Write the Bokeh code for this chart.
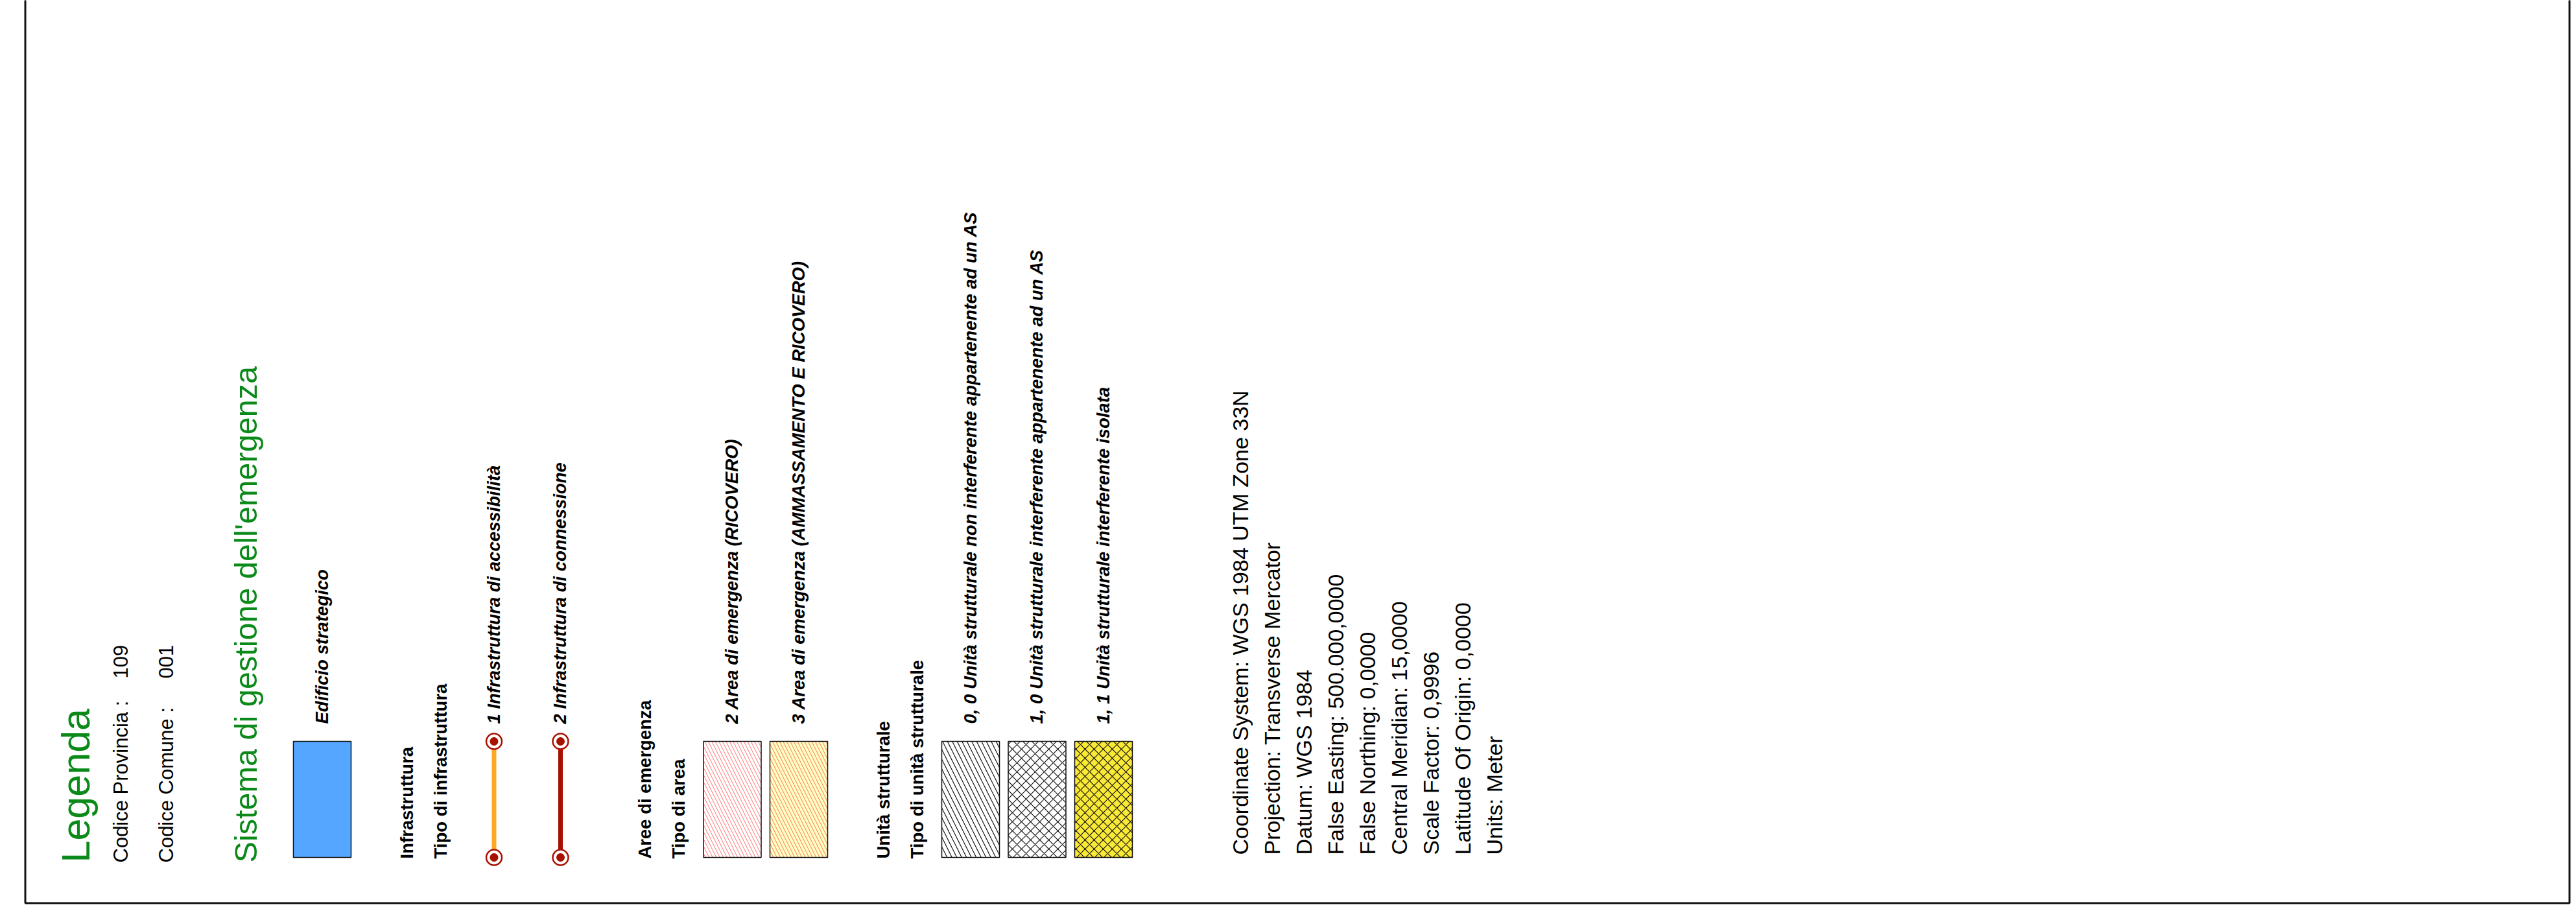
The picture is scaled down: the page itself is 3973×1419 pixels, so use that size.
import math
from bokeh.plotting import figure
from bokeh.models import Range1d
from bokeh.core.properties import value
from bokeh.embed import file_html
from bokeh.resources import INLINE

# ---------------- data (legend content) ----------------
legend_title = "Legenda"
codice_labels = ["Codice Provincia :", "Codice Comune :"]
codice_values = ["109", "001"]
section_title = "Sistema di gestione dell'emergenza"

strategic_labels = ["Edificio strategico"]
strategic_fills = ["#55A6FF"]

infra_headings = ["Infrastruttura", "Tipo di infrastruttura"]
infra_labels = ["1 Infrastruttura di accessibilità", "2 Infrastruttura di connessione"]
infra_colors = ["#FFA726", "#A81000"]

aree_headings = ["Aree di emergenza", "Tipo di area"]
aree_labels = ["2 Area di emergenza (RICOVERO)", "3 Area di emergenza (AMMASSAMENTO E RICOVERO)"]
aree_fills = ["#FFFFFF", "#FFFFBE"]
aree_hatch_colors = ["#FF6E6E", "#FF6E6E"]

unita_headings = ["Unità strutturale", "Tipo di unità strutturale"]
unita_labels = ["0, 0 Unità strutturale non interferente appartenente ad un AS",
                "1, 0 Unità strutturale interferente appartenente ad un AS",
                "1, 1 Unità strutturale interferente isolata"]
unita_fills = ["#FFFFFF", "#FFFFFF", "#FAE935"]
unita_hatches = ["\\", "x", "x"]

crs_lines = ["Coordinate System: WGS 1984 UTM Zone 33N",
             "Projection: Transverse Mercator",
             "Datum: WGS 1984",
             "False Easting: 500.000,0000",
             "False Northing: 0,0000",
             "Central Meridian: 15,0000",
             "Scale Factor: 0,9996",
             "Latitude Of Origin: 0,0000",
             "Units: Meter"]

# ---------------- page geometry ----------------
W, H = 3966, 1403
FONT = "Liberation Sans"
GREEN = "#0B8A1A"
UP = math.pi / 2


def X(px):
    return px


def Y(py):
    return H - py


p = figure(width=W, height=H, x_range=Range1d(0, W), y_range=Range1d(0, H),
           output_backend="svg", toolbar_location=None, min_border=0,
           x_axis_type=None, y_axis_type=None)
p.grid.visible = False
p.outline_line_color = None
p.background_fill_color = "white"
p.border_fill_color = "white"


def vtext(xs, y0, texts, size, style="normal", color="black"):
    shift = 0.2 * size + 5  # rotated-text baseline correction
    p.text(x=[X(v - shift) for v in xs], y=[Y(y0)] * len(xs), text=texts, angle=UP,
           text_font=value(FONT), text_font_size=f"{size}px", text_font_style=style,
           text_color=color, text_align="left", text_baseline="alphabetic")


# frame (top edge lies above the page)
p.line(x=[X(38.5), X(38.5), X(3962.5), X(3962.5)], y=[Y(-20), Y(1392.5), Y(1392.5), Y(-20)],
       line_color="#111111", line_width=3)

# header block
HEAD_Y = 1330
vtext([134], HEAD_Y, [legend_title], 61, color=GREEN)
codice_x = [197, 267]
vtext(codice_x, HEAD_Y, codice_labels, 31)
vtext(codice_x, 1046, codice_values, 31)
vtext([393], HEAD_Y, [section_title], 48.6, color=GREEN)

# symbol geometry
SYM_TOP, SYM_BOT = 1143, 1322
SYM_W = 89
SYM_H = SYM_BOT - SYM_TOP
SYM_MID = (SYM_TOP + SYM_BOT) / 2
LABEL_Y = 1116
HEADING_Y = 1324
LBL_SIZE = 27.5
PITCH = 102.5
GROUP_GAP = 140.5
HEAD_GAP = 52
FIRST_GAP = 72.5
BASE_OFF = 9.7


def labels_for(centers, labels):
    vtext([c + BASE_OFF for c in centers], LABEL_Y, labels, LBL_SIZE, style="bold italic")


# strategic building
blue_cx = [496.5]
p.rect(x=[X(c) for c in blue_cx], y=[Y(SYM_MID)] * len(blue_cx), width=SYM_W, height=SYM_H,
       fill_color=strategic_fills, line_color="#111111", line_width=1.5)
labels_for(blue_cx, strategic_labels)


def group(start_after, headings, n):
    h1 = start_after + GROUP_GAP
    h2 = h1 + HEAD_GAP
    vtext([h1, h2], HEADING_Y, headings, LBL_SIZE, style="bold")
    return [h2 + FIRST_GAP + i * PITCH for i in range(n)]


# infrastructure lines
infra_cx = group(blue_cx[-1], infra_headings, len(infra_labels))
for cx, col in zip(infra_cx, infra_colors):
    p.line(x=[X(cx), X(cx)], y=[Y(SYM_TOP), Y(SYM_BOT)], line_color=col, line_width=7)
ends_x = [X(c) for c in infra_cx for _ in (0, 1)]
ends_y = [Y(v) for _ in infra_cx for v in (SYM_TOP, SYM_BOT)]
p.scatter(x=ends_x, y=ends_y, size=24, marker="circle", fill_color="white",
          line_color="#A81000", line_width=2.5)
p.scatter(x=ends_x, y=ends_y, size=13, marker="circle", fill_color="#A81000", line_color=None)
labels_for(infra_cx, infra_labels)

# emergency areas
aree_cx = group(infra_cx[-1], aree_headings, len(aree_labels))
p.rect(x=[X(c) for c in aree_cx], y=[Y(SYM_MID)] * len(aree_cx), width=SYM_W, height=SYM_H,
       fill_color=aree_fills, line_color="#111111", line_width=1.5,
       hatch_pattern="\\", hatch_color=aree_hatch_colors, hatch_scale=11, hatch_weight=1.0)
labels_for(aree_cx, aree_labels)

# structural units
unita_cx = group(aree_cx[-1], unita_headings, len(unita_labels))
for cx, fc, hp in zip(unita_cx, unita_fills, unita_hatches):
    p.rect(x=[X(cx)], y=[Y(SYM_MID)], width=SYM_W, height=SYM_H,
           fill_color=fc, line_color="#111111", line_width=1.5,
           hatch_pattern=hp, hatch_color="#111111", hatch_scale=15 if hp == "\\" else 14,
           hatch_weight=1.2)
labels_for(unita_cx, unita_labels)

# coordinate system block
CRS_X0, CRS_STEP = 1924, 49
vtext([CRS_X0 + i * CRS_STEP for i in range(len(crs_lines))], 1318, crs_lines, 34)

open("out.html", "w").write(file_html(p, INLINE))
